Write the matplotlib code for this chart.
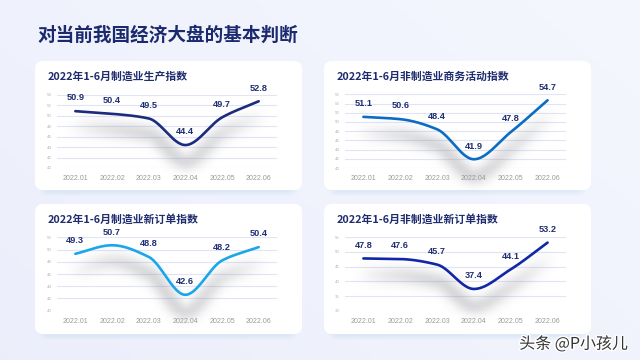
import numpy as np
import matplotlib
matplotlib.use("Agg")
import matplotlib.pyplot as plt
from matplotlib.patches import FancyBboxPatch
import matplotlib.patheffects as pe

# ---------------- data ----------------
months = ["2022.01", "2022.02", "2022.03", "2022.04", "2022.05", "2022.06"]
main_title = "对当前我国经济大盘的基本判断"

titles = ["2022年1-6月制造业生产指数", "2022年1-6月非制造业商务活动指数",
          "2022年1-6月制造业新订单指数", "2022年1-6月非制造业新订单指数"]
mfg_production = [50.9, 50.4, 49.5, 44.4, 49.7, 52.8]
nonmfg_business = [51.1, 50.6, 48.4, 41.9, 47.8, 54.7]
mfg_new_orders = [49.3, 50.7, 48.8, 42.6, 48.2, 50.4]
nonmfg_new_orders = [47.8, 47.6, 45.7, 37.4, 44.1, 53.2]

y_ticks_1 = [40, 42, 44, 46, 48, 50, 52, 54]
y_ticks_2 = [40, 42, 44, 46, 48, 50, 52, 54, 56]
y_ticks_3 = [40, 42, 44, 46, 48, 50, 52]
y_ticks_4 = [30, 35, 40, 45, 50, 55]

watermark = "头条 @P小孩儿"

# ---------------- style ----------------
W, H = 640, 360
CJK = ["Noto Sans CJK SC", "DejaVu Sans"]
NUM = ["Liberation Sans", "DejaVu Sans"]
line_colors = ["#1b2c7d", "#0b6cc2", "#1aa7ea", "#1226a8"]
label_color = "#1f2f72"
grid_color = "#e1e4f5"

fig = plt.figure(figsize=(W / 100, H / 100), dpi=100)

# background
bg = fig.add_axes([0, 0, 1, 1], zorder=-5)
bg.set_xlim(0, W)
bg.set_ylim(H, 0)
bg.axis("off")
gx = np.linspace(0, 1, 200)
gy = np.linspace(0, 1, 120)
GX, GY = np.meshgrid(gx, gy)
c0 = np.array([0.925, 0.937, 0.984])
c1 = np.array([0.960, 0.968, 0.996])
t = np.clip(0.6 * GX + 0.4 * (1 - GY), 0, 1)[..., None]
bg.imshow(c0 * (1 - t) + c1 * t, extent=[0, W, H, 0], aspect="auto", zorder=0)

# cards (pixel coords: x0, y0, x1, y1)
cards = [(35, 61, 302, 190), (324, 61, 591, 190), (35, 204, 302, 334), (324, 204, 591, 334)]
for (x0, y0, x1, y1) in cards:
    for k in range(5):
        sh = FancyBboxPatch((x0 + 8 - k, y0 + 2 + k * 1.0), (x1 - x0) - 16 + 2 * k, (y1 - y0),
                            boxstyle="round,pad=0,rounding_size=9", fc="#8fcdf5", ec="none",
                            alpha=0.035, zorder=1)
        bg.add_patch(sh)
    card = FancyBboxPatch((x0, y0), x1 - x0, y1 - y0, boxstyle="round,pad=0,rounding_size=8",
                          fc="white", ec="none", zorder=2)
    bg.add_patch(card)

bg.text(37, 35, main_title, fontsize=13.4, fontweight="bold", color="#1b2a6e",
        family=CJK, va="center", ha="left", zorder=3)
title_pos = [(48, 77), (337, 77), (48, 219), (337, 219)]
for (tx, ty), ttl in zip(title_pos, titles):
    bg.text(tx, ty, ttl, fontsize=7.8, fontweight="bold", color="#1f2d6e", family=CJK,
            va="center", ha="left", zorder=3)

bg.text(628, 344, watermark, fontsize=11.5, color="#333333", family=CJK, ha="right",
        va="center", zorder=5,
        path_effects=[pe.withStroke(linewidth=2, foreground="white")])


def pchip(x, y, n=400):
    x = np.asarray(x, float)
    y = np.asarray(y, float)
    h = np.diff(x)
    d = np.diff(y) / h
    m = np.zeros_like(y)
    for i in range(1, len(y) - 1):
        if d[i - 1] * d[i] > 0:
            w1 = 2 * h[i] + h[i - 1]
            w2 = h[i] + 2 * h[i - 1]
            m[i] = (w1 + w2) / (w1 / d[i - 1] + w2 / d[i])
        else:
            m[i] = 0.0
    m[0] = d[0]
    m[-1] = d[-1]
    xs = np.linspace(x[0], x[-1], n)
    idx = np.clip(np.searchsorted(x, xs) - 1, 0, len(x) - 2)
    tt = (xs - x[idx]) / h[idx]
    h00 = 2 * tt ** 3 - 3 * tt ** 2 + 1
    h10 = tt ** 3 - 2 * tt ** 2 + tt
    h01 = -2 * tt ** 3 + 3 * tt ** 2
    h11 = tt ** 3 - tt ** 2
    ys = h00 * y[idx] + h10 * h[idx] * m[idx] + h01 * y[idx + 1] + h11 * h[idx] * m[idx + 1]
    return xs, ys


def add_shadow(ax, pos, xs, ys, off=17, sigma=6.5, strength=0.26):
    xl = ax.get_xlim()
    yl = ax.get_ylim()
    wpx = pos[2] * W
    hpx = pos[3] * H
    sx = wpx / (xl[1] - xl[0])
    sy = hpx / (yl[1] - yl[0])
    px = (xs - xl[0]) * sx
    py = (ys - yl[0]) * sy - off
    tpos = (xs - xs[0]) / (xs[-1] - xs[0])
    wgt = np.sin(np.pi * tpos) ** 0.6
    ex0, ex1 = -10, wpx + 10
    ey0, ey1 = -35, hpx + 5
    gxs = np.arange(ex0, ex1, 1.0)
    gys = np.arange(ey0, ey1, 1.0)
    GXp, GYp = np.meshgrid(gxs, gys)
    inten = np.zeros_like(GXp)
    sub = slice(None, None, 2)
    for cx, cy, w in zip(px[sub], py[sub], wgt[sub]):
        dd = (GXp - cx) ** 2 + (GYp - cy) ** 2
        inten = np.maximum(inten, w * np.exp(-dd / (2 * sigma ** 2)))
    img = np.zeros(GXp.shape + (4,))
    img[..., 0] = 0.42
    img[..., 1] = 0.43
    img[..., 2] = 0.47
    img[..., 3] = strength * inten
    ext = [xl[0] + ex0 / sx, xl[0] + ex1 / sx, yl[0] + ey0 / sy, yl[0] + ey1 / sy]
    ax.imshow(img, extent=ext, origin="lower", aspect="auto", zorder=1,
              interpolation="bilinear", clip_on=False)
    ax.set_xlim(xl)
    ax.set_ylim(yl)


series = [mfg_production, nonmfg_business, mfg_new_orders, nonmfg_new_orders]
yticks = [y_ticks_1, y_ticks_2, y_ticks_3, y_ticks_4]
ax_pos_px = [(57, 95, 277, 168), (345, 94.3, 566, 168),
             (57, 237.3, 277, 310.7), (345, 237.3, 566, 310.7)]

for vals, ticks, (l, t_, r, b), col in zip(series, yticks, ax_pos_px, line_colors):
    pos = [l / W, 1 - b / H, (r - l) / W, (b - t_) / H]
    ax = fig.add_axes(pos, zorder=2)
    ax.patch.set_alpha(0)
    x = np.arange(len(months))
    ax.set_xlim(-0.5, 5.5)
    ax.set_ylim(ticks[0], ticks[-1])
    ax.set_yticks(ticks)
    ax.set_xticks(x)
    ax.set_xticklabels(months)
    for s in ax.spines.values():
        s.set_visible(False)
    ax.tick_params(axis="both", length=0)
    ax.tick_params(axis="x", pad=5, labelsize=5.0, labelcolor="#9a9a9a")
    ax.tick_params(axis="y", pad=4, labelsize=3.2, labelcolor="#b5b5b5")
    for lab in ax.get_xticklabels() + ax.get_yticklabels():
        lab.set_family(NUM)
    for tv in ticks:
        ax.axhline(tv, color=grid_color, lw=0.8, zorder=0.5)
    xs, ys = pchip(x, vals)
    add_shadow(ax, pos, xs, ys)
    ax.plot(xs, ys, color=col, lw=1.9, solid_capstyle="round", zorder=3)
    for xi, v in zip(x, vals):
        ax.annotate(f"{v:.1f}", (xi, v), xytext=(0, 9.5), textcoords="offset points",
                    ha="center", va="center", fontsize=6.6, fontweight="bold",
                    color=label_color, family=NUM, zorder=4)

fig.savefig("out.png", dpi=100)
